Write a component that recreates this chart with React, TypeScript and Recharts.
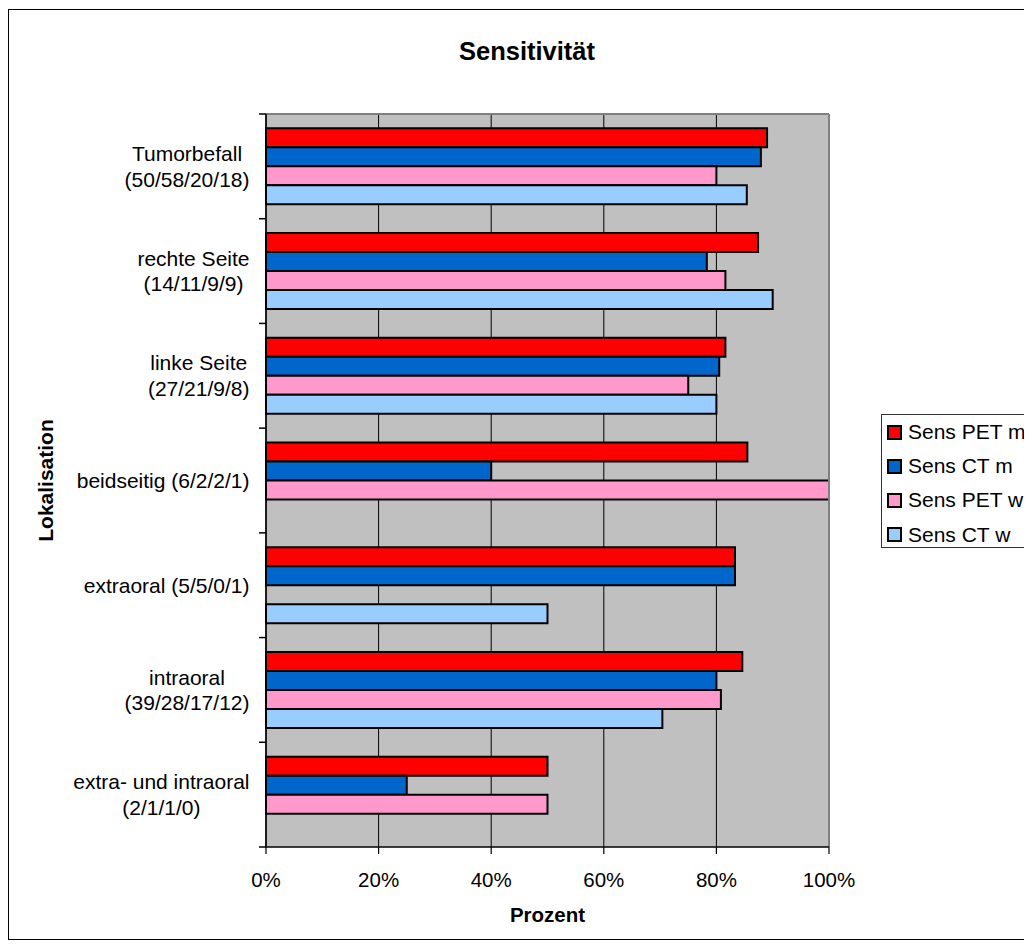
import React from 'react';
import { BarChart, Bar, XAxis, YAxis, CartesianGrid, Legend, ReferenceLine } from 'recharts';

const FONT = "'Liberation Sans', Arial, Helvetica, sans-serif";

const categories = [
  'Tumorbefall\n(50/58/20/18)',
  'rechte Seite\n(14/11/9/9)',
  'linke Seite\n(27/21/9/8)',
  'beidseitig (6/2/2/1)',
  'extraoral (5/5/0/1)',
  'intraoral\n(39/28/17/12)',
  'extra- und intraoral\n(2/1/1/0)',
];

const sensPetM: (number | null)[] = [89.0, 87.4, 81.6, 85.5, 83.3, 84.6, 50];
const sensCtM: (number | null)[] = [87.9, 78.3, 80.5, 40, 83.3, 80, 25];
const sensPetW: (number | null)[] = [80, 81.6, 75, 100, null, 80.8, 50];
const sensCtW: (number | null)[] = [85.4, 90, 80, null, 50, 70.4, null];

const seriesKeys = ['petM', 'ctM', 'petW', 'ctW'];
const seriesNames = ['Sens PET m', 'Sens CT m', 'Sens PET w', 'Sens CT w'];
const seriesColors = ['#FF0000', '#0066CC', '#FF99CC', '#99CCFF'];
const xTicks = [0, 20, 40, 60, 80, 100];

const titleText = 'Sensitivität';
const xTitle = 'Prozent';
const yTitle = 'Lokalisation';

const data = categories.map((c, i) => ({
  category: c,
  petM: sensPetM[i],
  ctM: sensCtM[i],
  petW: sensPetW[i],
  ctW: sensCtW[i],
}));

let ctx: CanvasRenderingContext2D | null = null;
function measure(text: string, font: string): number {
  if (!ctx) ctx = document.createElement('canvas').getContext('2d');
  if (!ctx) return text.length * 10;
  ctx.font = font;
  return ctx.measureText(text).width;
}

const CAT_FONT = 21;
const LABEL_GAP = 16.5;
const LINE_H = 25.5;

function CategoryTick(props: any) {
  const { x, y, payload, index, visibleTicksCount } = props;
  const half = payload && payload.offset ? payload.offset : 52.35;
  const lines = String(payload.value).split('\n');
  const font = `${CAT_FONT}px ${FONT}`;
  const maxW = Math.max(...lines.map((l) => measure(l, font)));
  const cx = x - LABEL_GAP - maxW / 2;
  const startY = y - ((lines.length - 1) * LINE_H) / 2;
  const isLast = index === (visibleTicksCount ? visibleTicksCount - 1 : categories.length - 1);
  return (
    <g>
      <line x1={x - 7} x2={x} y1={y - half} y2={y - half} stroke="#000" strokeWidth={1.5} />
      {isLast && <line x1={x - 7} x2={x} y1={y + half} y2={y + half} stroke="#000" strokeWidth={1.5} />}
      <text textAnchor="middle" fontSize={CAT_FONT} fontFamily={FONT} fill="#000">
        {lines.map((l, i) => (
          <tspan key={i} x={cx} y={startY + i * LINE_H} dy="0.355em">
            {l}
          </tspan>
        ))}
      </text>
    </g>
  );
}

function LegendBox() {
  return (
    <div
      style={{
        border: '1px solid #333',
        background: '#fff',
        width: 170,
        height: 134,
        boxSizing: 'border-box',
        fontFamily: FONT,
        fontSize: 21,
        color: '#000',
      }}
    >
      {seriesNames.map((name, i) => (
        <div key={name} style={{ display: 'flex', alignItems: 'center', height: 34.2, paddingLeft: 5 }}>
          <div
            style={{
              width: 11,
              height: 11,
              border: '2px solid #000',
              background: seriesColors[i],
              marginRight: 6,
              flex: 'none',
            }}
          />
          <span style={{ whiteSpace: 'nowrap' }}>{name}</span>
        </div>
      ))}
    </div>
  );
}

export default function App() {
  return (
    <div style={{ position: 'relative', width: 1024, height: 941, overflow: 'hidden', background: '#fff' }}>
      <div
        style={{
          position: 'absolute',
          left: 0,
          top: 1,
          width: 1060,
          height: 931,
          border: '1.5px solid #000',
          boxSizing: 'border-box',
        }}
      />
      <BarChart
        width={1024}
        height={941}
        data={data}
        layout="vertical"
        margin={{ top: 106, right: 203, left: 0, bottom: 0 }}
        barCategoryGap="13.7%"
        barGap={0}
        style={{ position: 'absolute', left: 0, top: 0 }}
      >
        <CartesianGrid stroke="#000" fill="#C0C0C0" horizontal={false} vertical={true} />
        <XAxis
          type="number"
          domain={[0, 100]}
          ticks={xTicks}
          interval={0}
          tickFormatter={(v: number) => `${v}%`}
          tickSize={7}
          tickMargin={18}
          height={102}
          axisLine={{ stroke: '#000', strokeWidth: 1.5 }}
          tickLine={{ stroke: '#000', strokeWidth: 1.2 }}
          tick={{ fill: '#000', fontSize: 20.5, fontFamily: FONT }}
          label={(p: any) => {
            const vb = p.viewBox || { x: 258, y: 839, width: 563, height: 102 };
            return (
              <text
                x={vb.x + vb.width / 2}
                y={vb.y + 75}
                textAnchor="middle"
                fontSize={20.5}
                fontWeight="bold"
                fontFamily={FONT}
                fill="#000"
              >
                {xTitle}
              </text>
            );
          }}
        />
        <YAxis
          type="category"
          dataKey="category"
          width={258}
          interval={0}
          tickLine={false}
          tickSize={0}
          tickMargin={0}
          axisLine={{ stroke: '#000', strokeWidth: 1.5 }}
          tick={<CategoryTick />}
          label={(p: any) => {
            const vb = p.viewBox || { x: 0, y: 106, width: 258, height: 733 };
            const cx = vb.x + 45;
            const cy = vb.y + vb.height / 2;
            return (
              <text
                x={cx}
                y={cy}
                transform={`rotate(-90 ${cx} ${cy})`}
                textAnchor="middle"
                fontSize={21}
                fontWeight="bold"
                fontFamily={FONT}
                fill="#000"
              >
                {yTitle}
              </text>
            );
          }}
        />
        <ReferenceLine x={100} stroke="#808080" strokeWidth={2} />
        <ReferenceLine y={categories[0]} position="start" stroke="#808080" strokeWidth={2} />
        {seriesKeys.map((k, i) => (
          <Bar
            key={k}
            dataKey={k}
            name={seriesNames[i]}
            fill={seriesColors[i]}
            stroke="#000"
            strokeWidth={2}
            isAnimationActive={false}
          />
        ))}
        <Legend
          layout="vertical"
          align="center"
          verticalAlign="middle"
          wrapperStyle={{ left: 873, top: 406, width: 170 }}
          content={<LegendBox />}
        />
        <text
          x={519}
          y={52}
          textAnchor="middle"
          fontSize={25.5}
          fontWeight="bold"
          fontFamily={FONT}
          fill="#000"
        >
          {titleText}
        </text>
      </BarChart>
    </div>
  );
}
